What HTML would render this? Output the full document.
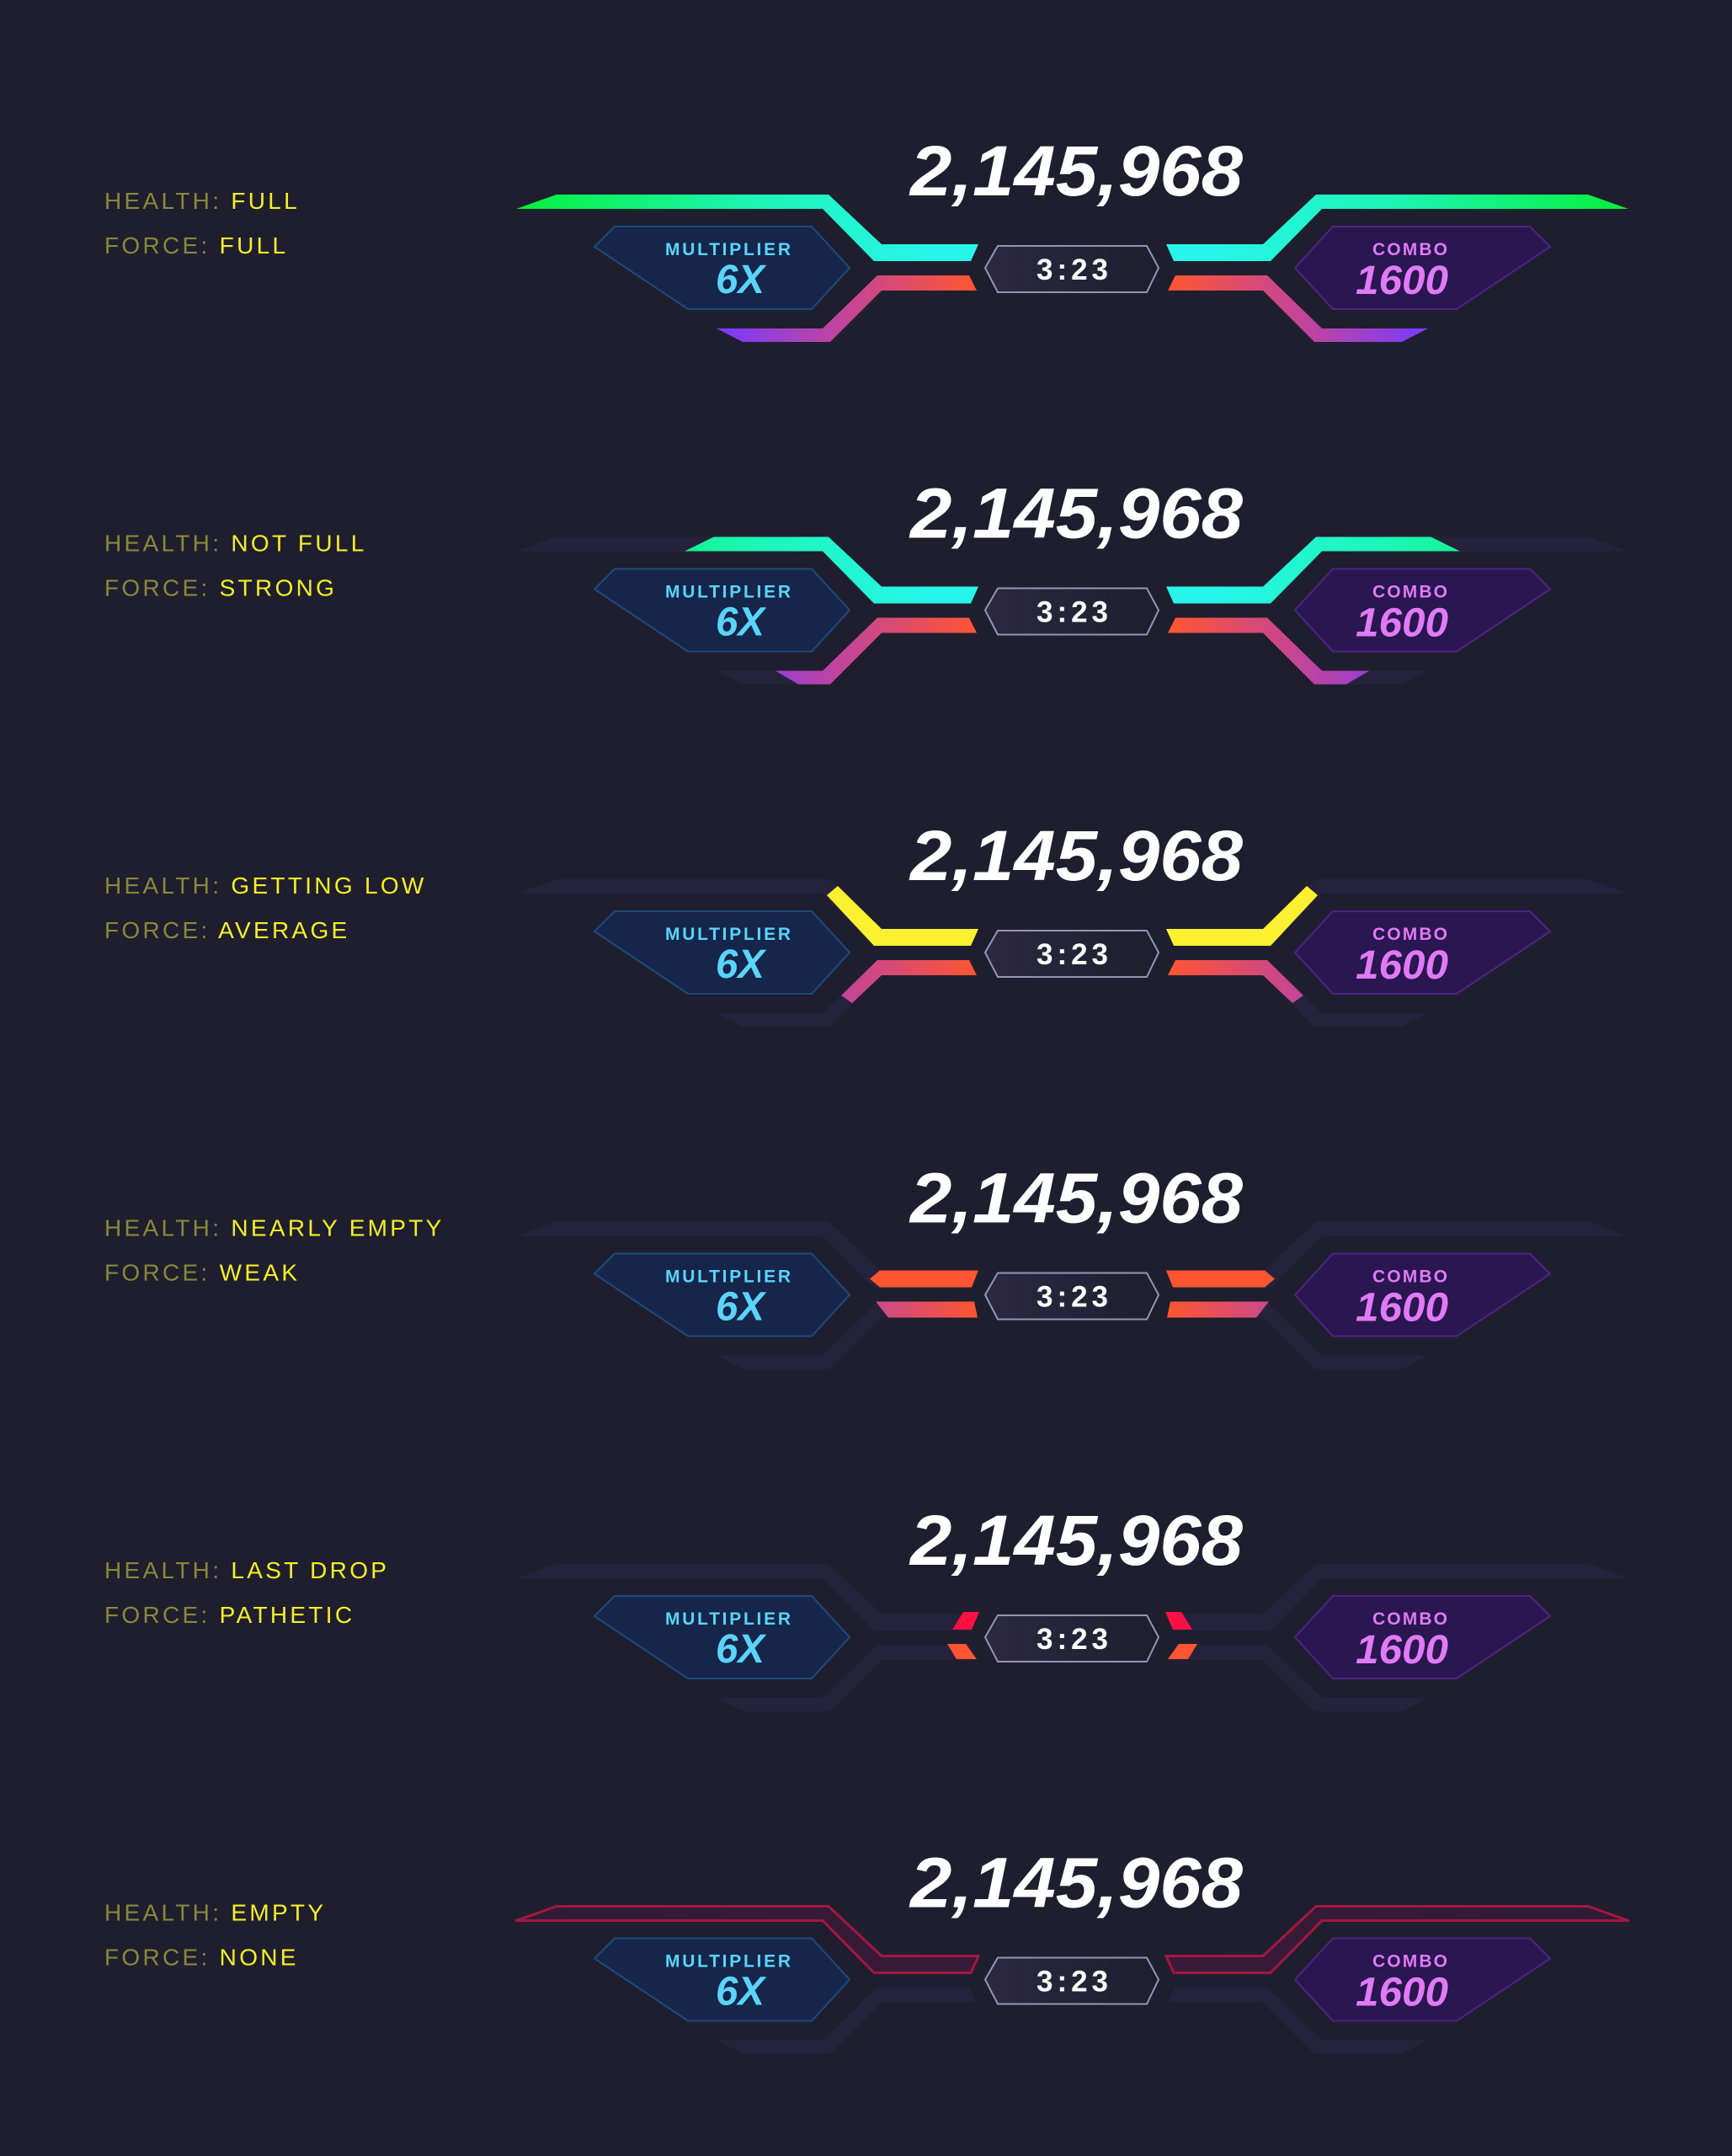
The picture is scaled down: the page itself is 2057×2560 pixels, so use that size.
<!DOCTYPE html>
<html><head><meta charset="utf-8"><style>
html,body{margin:0;padding:0;background:#1f1e2e;}
svg{display:block;}
text{font-family:"Liberation Sans",sans-serif;}
</style></head><body>
<svg width="2057" height="2560" viewBox="0 0 2057 2560" xmlns="http://www.w3.org/2000/svg">
<defs>
  <linearGradient id="gTop" gradientUnits="userSpaceOnUse" x1="613" y1="0" x2="1100" y2="0">
    <stop offset="0" stop-color="#05f03a"/><stop offset="0.55" stop-color="#1cf5b0"/><stop offset="1" stop-color="#27f5ea"/>
  </linearGradient>
  <linearGradient id="gBot" gradientUnits="userSpaceOnUse" x1="860" y1="0" x2="1160" y2="0">
    <stop offset="0" stop-color="#7b3cf8"/><stop offset="0.45" stop-color="#c0449e"/><stop offset="1" stop-color="#ff5530"/>
  </linearGradient>
  <linearGradient id="gBot4" gradientUnits="userSpaceOnUse" x1="1040" y1="0" x2="1160" y2="0">
    <stop offset="0" stop-color="#c94a8a"/><stop offset="1" stop-color="#ff5530"/>
  </linearGradient>
  <linearGradient id="gEmpty" gradientUnits="userSpaceOnUse" x1="613" y1="0" x2="1160" y2="0">
    <stop offset="0" stop-color="#2e1c34"/><stop offset="1" stop-color="#3a1a38"/>
  </linearGradient>
  <linearGradient id="gTimer" x1="0" y1="0" x2="1" y2="0">
    <stop offset="0" stop-color="#2b2840"/><stop offset="1" stop-color="#1f1e2e"/>
  </linearGradient>
  <clipPath id="c2top" clipPathUnits="userSpaceOnUse"><polygon points="862,224 1200,224 1200,330 805,330 805,252"/></clipPath>
  <clipPath id="c2bot" clipPathUnits="userSpaceOnUse"><polygon points="914,300 1200,300 1200,420 972,420 914,386"/></clipPath>
  <polygon id="topL" points="613,248 661,231 984,231 1047,290 1162,290 1153,310 1038,310 977,248"/>
  <polygon id="botL" points="1042,327 1151,327 1160,345 1047,345 986,406 882,406 851,390 977,390"/>

  <g id="s1"><use href="#topL" fill="url(#gTop)"/><use href="#botL" fill="url(#gBot)"/></g>
  <g id="dim"><use href="#topL" fill="#25223d"/><use href="#botL" fill="#25223d"/></g>
  <g id="s2"><use href="#dim"/><use href="#topL" fill="url(#gTop)" clip-path="url(#c2top)"/><use href="#botL" fill="url(#gBot)" clip-path="url(#c2bot)"/></g>
  <g id="s3"><use href="#dim"/>
    <polygon points="982,250 995,239 1047,290 1162,290 1153,310 1038,310" fill="#fbf130"/>
    <polygon points="1042,327 1151,327 1160,345 1047,345 1012,378 999,369" fill="url(#gBot)"/></g>
  <g id="s4"><use href="#dim"/>
    <polygon points="1033,299 1045,289 1162,289 1154,309 1045,309" fill="#ff5530"/>
    <polygon points="1040,326 1157,326 1161,345 1055,345" fill="url(#gBot4)"/></g>
  <g id="s5"><use href="#dim"/>
    <polygon points="1144,288 1163,288 1154,309 1131,309" fill="#ff1042"/>
    <polygon points="1125,326 1147,326 1160,344 1136,344" fill="#ff5530"/></g>
  <g id="s6"><use href="#botL" fill="#25223d"/>
    <polygon points="613,248 661,231 984,231 1047,290 1162,290 1153,310 1038,310 977,248" fill="url(#gEmpty)" stroke="#a3173f" stroke-width="3" stroke-linejoin="round"/></g>

  <g id="base">
    <polygon points="730,269 964,269 1009,318 964,367 817,367 706,293" fill="#16254a" stroke="#1b4a7c" stroke-width="2"/>
    <polygon points="1817,269 1583,269 1538,318 1583,367 1730,367 1841,293" fill="#2a1650" stroke="#4e2384" stroke-width="2"/>
    <polygon points="1170,318 1185,292 1362,292 1376,318 1362,347 1185,347" fill="url(#gTimer)" stroke="#9694b6" stroke-width="2"/>
    <text x="1081" y="232" font-size="84" font-weight="bold" font-style="italic" fill="#fff" textLength="395" lengthAdjust="spacingAndGlyphs">2,145,968</text>
    <text x="790" y="303" font-size="21" font-weight="bold" fill="#5ad4fa" textLength="149" lengthAdjust="spacing">MULTIPLIER</text>
    <text x="850" y="348" font-size="48" font-weight="bold" font-style="italic" fill="#5ad4fa" textLength="58" lengthAdjust="spacingAndGlyphs">6X</text>
    <text x="1630" y="303" font-size="21" font-weight="bold" fill="#e07af5" textLength="89" lengthAdjust="spacing">COMBO</text>
    <text x="1610" y="349" font-size="48" font-weight="bold" font-style="italic" fill="#e07af5" textLength="110" lengthAdjust="spacingAndGlyphs">1600</text>
    <text x="1231" y="332" font-size="35" font-weight="bold" fill="#fff" textLength="85" lengthAdjust="spacing">3:23</text>
  </g>
</defs>

<g font-size="28" letter-spacing="3.3">
  <text x="124" y="248"><tspan fill="#8a883a">HEALTH: </tspan><tspan fill="#f5ef28">FULL</tspan></text>
  <text x="124" y="301"><tspan fill="#8a883a">FORCE: </tspan><tspan fill="#f5ef28">FULL</tspan></text>
  <text x="124" y="654.5"><tspan fill="#8a883a">HEALTH: </tspan><tspan fill="#f5ef28">NOT FULL</tspan></text>
  <text x="124" y="707.5"><tspan fill="#8a883a">FORCE: </tspan><tspan fill="#f5ef28">STRONG</tspan></text>
  <text x="124" y="1061"><tspan fill="#8a883a">HEALTH: </tspan><tspan fill="#f5ef28">GETTING LOW</tspan></text>
  <text x="124" y="1114"><tspan fill="#8a883a">FORCE: </tspan><tspan fill="#f5ef28">AVERAGE</tspan></text>
  <text x="124" y="1467.5"><tspan fill="#8a883a">HEALTH: </tspan><tspan fill="#f5ef28">NEARLY EMPTY</tspan></text>
  <text x="124" y="1520.5"><tspan fill="#8a883a">FORCE: </tspan><tspan fill="#f5ef28">WEAK</tspan></text>
  <text x="124" y="1874"><tspan fill="#8a883a">HEALTH: </tspan><tspan fill="#f5ef28">LAST DROP</tspan></text>
  <text x="124" y="1927"><tspan fill="#8a883a">FORCE: </tspan><tspan fill="#f5ef28">PATHETIC</tspan></text>
  <text x="124" y="2280.5"><tspan fill="#8a883a">HEALTH: </tspan><tspan fill="#f5ef28">EMPTY</tspan></text>
  <text x="124" y="2333.5"><tspan fill="#8a883a">FORCE: </tspan><tspan fill="#f5ef28">NONE</tspan></text>
</g>

<g><use href="#s1"/><use href="#s1" transform="matrix(-1 0 0 1 2547 0)"/><use href="#base"/></g>
<g transform="translate(0,406.5)"><use href="#s2"/><use href="#s2" transform="matrix(-1 0 0 1 2547 0)"/><use href="#base"/></g>
<g transform="translate(0,813)"><use href="#s3"/><use href="#s3" transform="matrix(-1 0 0 1 2547 0)"/><use href="#base"/></g>
<g transform="translate(0,1219.5)"><use href="#s4"/><use href="#s4" transform="matrix(-1 0 0 1 2547 0)"/><use href="#base"/></g>
<g transform="translate(0,1626)"><use href="#s5"/><use href="#s5" transform="matrix(-1 0 0 1 2547 0)"/><use href="#base"/></g>
<g transform="translate(0,2032.5)"><use href="#s6"/><use href="#s6" transform="matrix(-1 0 0 1 2547 0)"/><use href="#base"/></g>
</svg>
</body></html>
